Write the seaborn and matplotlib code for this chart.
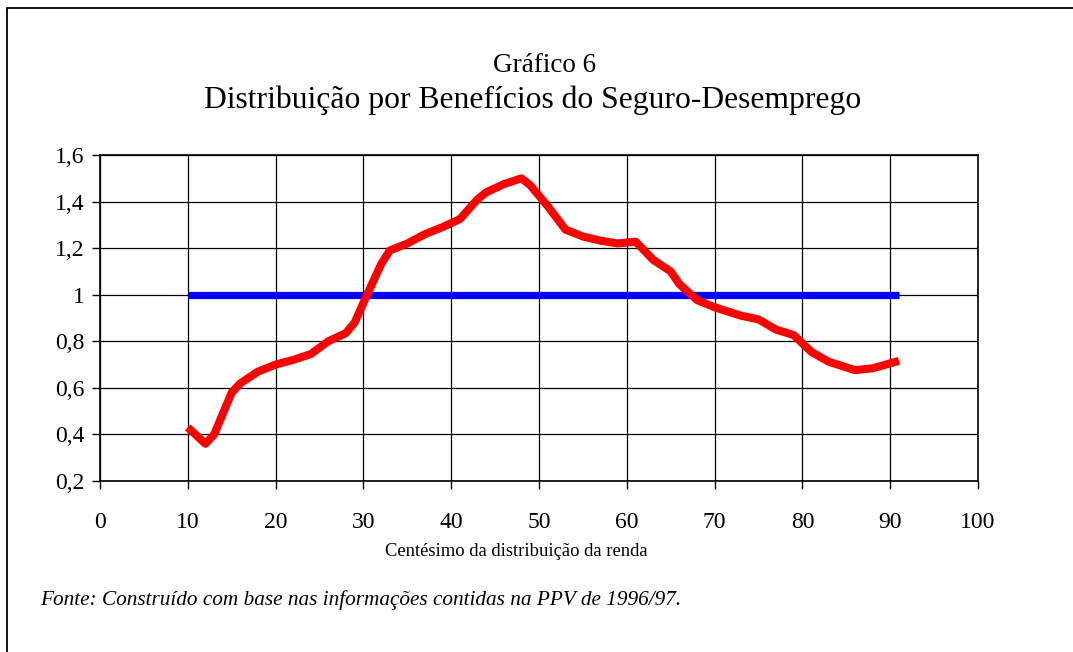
import matplotlib
matplotlib.use("Agg")
import matplotlib.pyplot as plt
import seaborn as sns
import pandas as pd
from matplotlib.patches import Rectangle

# ---- data ----
centesimo = [10, 12, 13, 15, 16, 18, 20, 22, 24, 26, 28, 29, 30, 32, 33, 35, 37, 39,
             41, 43, 44, 46, 48, 49, 51, 52, 53, 55, 57, 59, 61, 63, 65, 66, 68, 70,
             73, 75, 77, 79, 81, 83, 86, 88, 91]
beneficio = [0.43, 0.36, 0.40, 0.58, 0.62, 0.67, 0.70, 0.72, 0.745, 0.80, 0.835, 0.88,
             0.965, 1.13, 1.19, 1.22, 1.26, 1.29, 1.325, 1.41, 1.44, 1.475, 1.50, 1.47,
             1.38, 1.33, 1.28, 1.25, 1.232, 1.22, 1.228, 1.15, 1.10, 1.045, 0.977, 0.946,
             0.91, 0.894, 0.85, 0.827, 0.755, 0.712, 0.676, 0.684, 0.716]
ref_x = [10, 91]
ref_y = [1.0, 1.0]
xticks = [0, 10, 20, 30, 40, 50, 60, 70, 80, 90, 100]
yticks = [0.2, 0.4, 0.6, 0.8, 1.0, 1.2, 1.4, 1.6]
ytick_labels = ["0,2", "0,4", "0,6", "0,8", "1", "1,2", "1,4", "1,6"]

sns.set_style("white")
plt.rcParams["font.family"] = ["Liberation Serif", "DejaVu Serif"]
plt.rcParams["text.color"] = "black"
plt.rcParams["xtick.color"] = "black"
plt.rcParams["ytick.color"] = "black"
plt.rcParams["axes.labelcolor"] = "black"

W, H = 1073, 652
fig = plt.figure(figsize=(W / 100, H / 100), dpi=100)
fig.patch.set_facecolor("white")

ax = fig.add_axes([100 / W, 1 - 481 / H, 878 / W, 326 / H])

df_red = pd.DataFrame({"x": centesimo, "y": beneficio})
df_blue = pd.DataFrame({"x": ref_x, "y": ref_y})

sns.lineplot(data=df_blue, x="x", y="y", ax=ax, color="#0000ff", linewidth=5.2,
             solid_capstyle="butt", zorder=3)
sns.lineplot(data=df_red, x="x", y="y", ax=ax, color="#ff0000", linewidth=5.8,
             solid_capstyle="butt", solid_joinstyle="round", zorder=4)

ax.set_xlim(0, 100)
ax.set_ylim(0.2, 1.6)
ax.set_xticks(xticks)
ax.set_xticklabels([str(t) for t in xticks])
ax.set_yticks(yticks)
ax.set_yticklabels(ytick_labels)
ax.grid(True, color="black", linewidth=0.9)
ax.set_axisbelow(True)
ax.tick_params(axis="both", which="major", direction="out", length=6, width=1,
               color="black", labelcolor="black", labelsize=17, pad=5,
               bottom=True, left=True)
ax.tick_params(axis="x", pad=16)
for s in ax.spines.values():
    s.set_color("black")
    s.set_linewidth(1.2)
ax.set_xlabel("")
ax.set_ylabel("")

fig.text(545 / W, 1 - 66 / H, "Gráfico 6", ha="center", va="center", fontsize=19.5,
         color="black")
fig.text(533 / W, 1 - 100 / H, "Distribuição por Benefícios do Seguro-Desemprego",
         ha="center", va="center", fontsize=22.8, color="black")
fig.text(516 / W, 1 - 552 / H, "Centésimo da distribuição da renda",
         ha="center", va="center", fontsize=13.4, color="black")
fig.text(40 / W, 1 - 600 / H,
         "Fonte: Construído com base nas informações contidas na PPV de 1996/97.",
         ha="left", va="center", fontsize=15.3, style="italic", color="black")

# outer frame (left and top edges visible)
fig.add_artist(Rectangle((6.5 / W, -0.1), 1.2, 1 - 8 / H + 0.1, transform=fig.transFigure,
                         fill=False, edgecolor="black", linewidth=1.3))

fig.savefig("out.png", dpi=100)
